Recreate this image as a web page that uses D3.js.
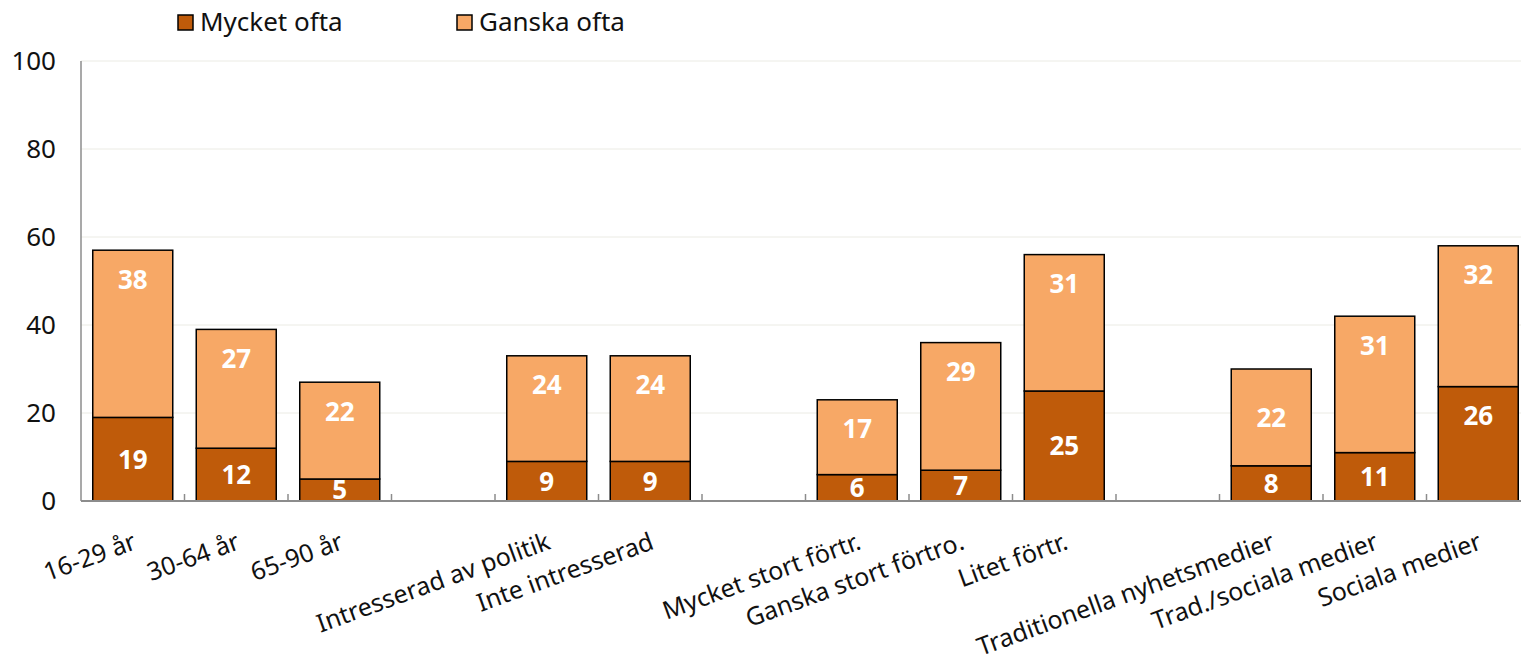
<!DOCTYPE html>
<html>
<head>
<meta charset="utf-8">
<script src="https://cdn.jsdelivr.net/npm/d3@7"></script>
<style>
  body { margin: 0; background: #fff; }
  svg { display: block; font-family: "Noto Sans", "Open Sans", sans-serif; }
</style>
</head>
<body>
<svg class="Chart"></svg>
<script>
// Chart data
const categories = ["16-29 år", "30-64 år", "65-90 år", "",
  "Intresserad av politik", "Inte intresserad", "",
  "Mycket stort förtr.", "Ganska stort förtro.", "Litet förtr.", "",
  "Traditionella nyhetsmedier", "Trad./sociala medier", "Sociala medier"];
const mycketOfta = [19, 12, 5, null, 9, 9, null, 6, 7, 25, null, 8, 11, 26];
const ganskaOfta = [38, 27, 22, null, 24, 24, null, 17, 29, 31, null, 22, 31, 32];
const seriesNames = ["Mycket ofta", "Ganska ofta"];
const yTicks = [0, 20, 40, 60, 80, 100];

const width = 1521;
const height = 663;
const colors = ["#bf5b0a", "#f7a866"];

const svg = d3.select('.Chart')
  .attr('width', width)
  .attr('height', height);

const left = 81, step = 103.5;
const x = d3.scaleBand()
  .domain(d3.range(categories.length))
  .range([left, left + step * categories.length])
  .paddingInner(0.227)
  .paddingOuter(0.1135);

const y = d3.scaleLinear()
  .domain([0, 100])
  .range([501, 61]);

// gridlines
svg.append('g')
  .selectAll('line')
  .data(yTicks.filter(t => t > 0))
  .enter().append('line')
  .attr('x1', left)
  .attr('x2', width)
  .attr('y1', d => y(d))
  .attr('y2', d => y(d))
  .attr('stroke', '#ebebe4')
  .attr('stroke-width', 1);

// y axis labels
svg.append('g')
  .selectAll('text')
  .data(yTicks)
  .enter().append('text')
  .attr('x', 56)
  .attr('y', d => y(d))
  .attr('dy', '0.36em')
  .attr('text-anchor', 'end')
  .attr('font-size', 26)
  .attr('fill', '#111')
  .text(d => d);

// stacked bars
const stacked = categories.map((c, i) => ({ i, a: mycketOfta[i], b: ganskaOfta[i] }))
  .filter(d => d.a !== null);

// labels sit near the top of the segment (light ones mostly), else centred
function labelNearTop(series, i) {
  if (series === 1) return i !== 11;
  return i === 13;
}

const barG = svg.append('g');
stacked.forEach(d => {
  const segs = [
    { y0: 0, y1: d.a, v: d.a, c: colors[0], s: 0 },
    { y0: d.a, y1: d.a + d.b, v: d.b, c: colors[1], s: 1 }
  ];
  segs.forEach(s => {
    barG.append('rect')
      .attr('x', x(d.i))
      .attr('y', y(s.y1))
      .attr('width', x.bandwidth())
      .attr('height', y(s.y0) - y(s.y1))
      .attr('fill', s.c)
      .attr('stroke', '#000')
      .attr('stroke-width', 1.5);
    const ly = labelNearTop(s.s, d.i) ? y(s.y1) + 29 : (y(s.y0) + y(s.y1)) / 2;
    barG.append('text')
      .attr('x', x(d.i) + x.bandwidth() / 2)
      .attr('y', ly)
      .attr('dy', '0.36em')
      .attr('text-anchor', 'middle')
      .attr('font-size', 26)
      .attr('font-weight', 'bold')
      .attr('fill', '#fff')
      .text(s.v);
  });
});

// axes lines
svg.append('line')
  .attr('x1', left).attr('x2', left)
  .attr('y1', y(100)).attr('y2', y(0))
  .attr('stroke', '#8c8c8c').attr('stroke-width', 1.5);

svg.append('g')
  .selectAll('line')
  .data(d3.range(1, categories.length + 1))
  .enter().append('line')
  .attr('x1', d => left + d * step)
  .attr('x2', d => left + d * step)
  .attr('y1', y(0) - 7)
  .attr('y2', y(0))
  .attr('stroke', '#8c8c8c').attr('stroke-width', 1.5);

svg.append('line')
  .attr('x1', left).attr('x2', width)
  .attr('y1', y(0)).attr('y2', y(0))
  .attr('stroke', '#8c8c8c').attr('stroke-width', 2);

// category labels
svg.append('g')
  .selectAll('text')
  .data(categories)
  .enter().append('text')
  .attr('transform', (d, i) => `translate(${x(i) + x.bandwidth() / 2 + 2},${540}) rotate(-20)`)
  .attr('dy', '0.36em')
  .attr('text-anchor', 'end')
  .attr('font-size', 25)
  .attr('fill', '#111')
  .text(d => d);

// legend
const legend = svg.append('g');
const legendX = [178, 457];
seriesNames.forEach((n, i) => {
  legend.append('rect')
    .attr('x', legendX[i])
    .attr('y', 15)
    .attr('width', 15)
    .attr('height', 15)
    .attr('fill', colors[i])
    .attr('stroke', '#000')
    .attr('stroke-width', 1.5);
  legend.append('text')
    .attr('x', legendX[i] + 22)
    .attr('y', 22)
    .attr('dy', '0.36em')
    .attr('font-size', 26)
    .attr('fill', '#111')
    .text(n);
});
</script>
</body>
</html>
